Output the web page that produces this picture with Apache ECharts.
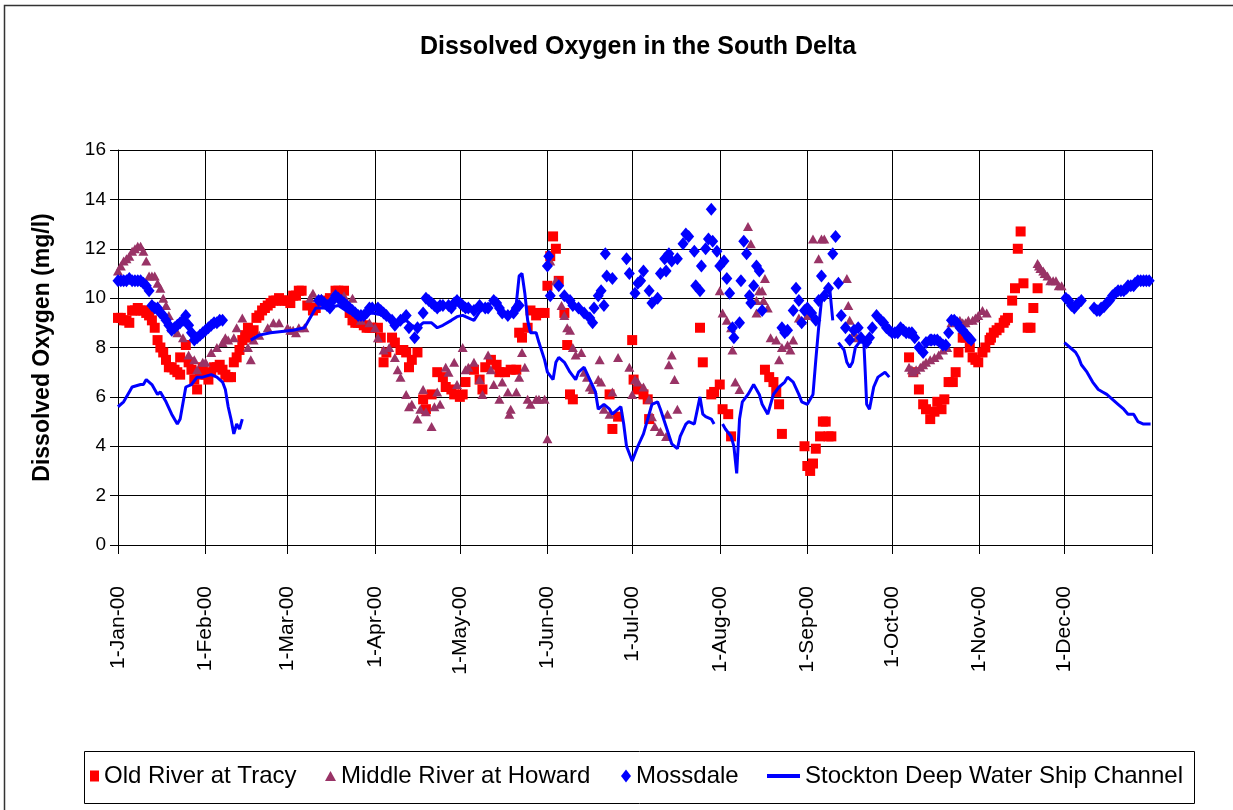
<!DOCTYPE html>
<html>
<head>
<meta charset="utf-8">
<title>Dissolved Oxygen in the South Delta</title>
<script src="https://cdn.jsdelivr.net/npm/echarts@6/dist/echarts.min.js"></script>
</head>
<body style="margin:0;background:#fff;">
<div id="main" style="width:1233px;height:810px;"></div>
<script>
// x values are day of year 2000 (0 = 1 Jan)
var monthStarts = [0, 31, 60, 91, 121, 152, 182, 213, 244, 274, 305, 335];
var monthLabels = ['1-Jan-00', '1-Feb-00', '1-Mar-00', '1-Apr-00', '1-May-00', '1-Jun-00',
    '1-Jul-00', '1-Aug-00', '1-Sep-00', '1-Oct-00', '1-Nov-00', '1-Dec-00'];
var yearEnd = 366;

var oldRiver = [
    [0,9.2],[1,9.2],[2,9.1],[3,9.1],[4,9.0],[5,9.5],[6,9.5],[7,9.6],[8,9.5],[9,9.5],[10,9.4],[11,9.3],
    [12,9.1],[13,8.8],[14,8.3],[15,8.0],[16,7.8],
    [17,7.5],[18,7.2],[19,7.2],[20,7.1],[21,7.0],[22,6.9],[22,7.6],[24,8.1],[25,7.4],[26,7.1],[27,6.7],
    [28,6.3],[29,6.9],[30,7.2],[31,6.9],[32,6.7],
    [33,7.0],[34,7.2],[35,7.2],[36,7.3],[37,7.1],[38,6.9],[39,6.8],[40,6.8],[41,7.4],[42,7.6],[43,7.9],[44,8.3],[45,8.5],
    [46,8.8],[47,8.4],[48,8.7],[49,9.2],[50,9.3],
    [51,9.5],[52,9.6],[53,9.7],[54,9.8],[55,9.9],[56,9.9],[57,10.0],[58,9.9],[59,9.9],[60,9.9],[61,9.8],
    [62,10.1],[63,10.1],[64,10.3],[65,10.3],
    [67,9.7],[69,9.5],[70,9.6],[73,9.9],[75,10.0],[77,10.3],[78,10.3],[80,10.3],[82,9.4],[83,9.1],[84,9.0],
    [85,9.0],[86,9.0],[87,8.9],[88,8.8],[89,8.8],[90,8.8],[92,8.8],[93,8.4],[94,7.4],[95,7.8],[97,8.4],[98,8.2],[100,7.9],
    [101,7.9],[102,7.8],[103,7.2],[104,7.5],[106,7.8],[108,5.9],[109,5.5],[111,6.1],[113,7.0],[115,6.8],
    [116,6.4],[118,6.3],[119,6.1],[121,6.0],[122,6.1],[123,6.6],[126,7.1],[128,6.7],[129,6.3],
    [130,7.2],[132,7.5],[134,7.3],[135,7.0],[137,7.0],[139,7.1],[141,7.1],[142,8.6],[143,8.4],
    [145,8.8],[146,9.5],[148,9.3],[149,9.4],[151,9.4],[152,10.5],[153,11.7],[154,12.5],[155,12.0],
    [156,10.7],[158,9.4],[159,8.1],[160,6.1],[161,5.9],[174,6.1],[175,4.7],[177,5.2],[182,8.3],
    [182.5,6.7],[184,6.3],[186,6.1],[187.5,5.9],[188,5.1],
    [206,8.8],[207,7.4],[210,6.1],[211,6.2],[213,6.5],[214,5.5],[216,5.3],[217,4.4],
    [229,7.1],[230.5,6.8],[232,6.6],[233,6.2],[234,5.7],[235,4.5],
    [243,4.0],[244,3.2],[245,3.0],[246,3.3],[247,3.9],[248.5,4.4],[249.5,5.0],[250.5,5.0],[251.5,4.4],[252.5,4.4],
    [280,7.6],[281.5,7.0],[283.5,6.3],[285,5.7],[286,5.5],[287.5,5.1],[289,5.4],[290,5.8],[291.5,5.5],
    [292.5,5.9],[294,6.6],[295.5,6.6],[296.5,7.0],[297.5,7.8],[299,8.4],[300,8.4],[301.5,8.0],
    [302.5,7.6],[303.5,7.5],[304.5,7.4],[306,7.8],[307,8.0],[308.5,8.3],[309,8.4],[310,8.6],[311,8.7],[312,8.8],
    [313.5,9.0],[314,9.1],[315,9.2],[316.5,9.9],[317.5,10.4],[318.5,12.0],[319.5,12.7],[320.5,10.6],[322,8.8],[323,8.8],
    [324,9.6],[325.5,10.4]
];

var middleRiver = [
    [0,11.1],[1,11.3],[2,11.5],[3,11.6],[4,11.7],[5,11.9],[6,12.0],[7,12.1],[8,12.1],[9,11.9],[10,11.5],
    [11,10.9],[12,10.9],[13,10.9],[14,10.6],
    [15,10.4],[16,10.0],[17,9.7],[18,9.3],[19,8.8],[21,8.6],[23,8.4],[25,7.7],[27,7.5],[28,7.1],
    [30,7.4],[31,7.4],[33,7.8],[35,8.0],[37,8.2],[38,8.4],[39,8.3],[41,8.4],[42,8.8],[44,9.2],
    [46,8.0],[47,7.5],[48,8.3],[50,8.5],[53,8.8],[55,9.0],[57,9.0],[60,8.8],[61,8.7],[62,8.7],
    [63,8.6],[64,8.8],[66,8.8],[68,10.0],[69,10.2],[72,10.0],[76,10.1],[80,10.1],[83,10.0],
    [86,9.1],[89,9.0],[91,8.8],[92,8.4],[94,7.9],[96,8.0],[98,7.6],[99,7.1],[100,6.8],[102,6.1],
    [103,5.6],[104,5.7],[106,5.1],[107,5.5],[108,6.3],[109,5.4],[111,4.8],[112,5.6],[113,6.2],
    [114,5.7],[116,7.2],[117,7.0],[119,7.4],[120,6.5],[122,8.0],[123,7.1],[124,7.2],[126,7.4],
    [128,6.7],[129,6.1],[131,7.7],[132,7.1],[133,6.5],[135,5.9],[136,6.6],[138,6.2],[138.5,5.3],
    [139,5.5],[141,6.2],[142,6.8],[143,7.8],[144,7.2],[145,5.9],[146,5.7],[148,5.9],[149,5.9],
    [151,5.9],[152,4.3],[153,11.5],[155,10.7],[157,9.7],[158,9.3],[159,8.8],[160,8.7],[161,8.0],
    [162,7.7],[164,7.8],[165,7.0],[166,6.8],[167,6.4],[168,6.3],[170,6.7],[170.5,7.5],[171,6.6],
    [172,5.5],[174,5.3],[175,6.2],[177,7.6],[181,7.2],[182,6.1],[183,6.7],[184,6.6],[186,6.4],
    [188,5.9],[189,5.2],[190,4.8],[192,4.6],[194,4.4],[194.5,5.3],[195,7.3],[196,7.7],[197,6.7],[198,5.5],
    [213,10.3],[214,9.4],[215.5,9.1],[217,8.8],[217.5,7.9],[218.5,6.6],[220,6.3],[223,12.9],[224,12.2],
    [226,9.9],[226,9.4],[227,10.3],[228,10.3],[228.5,9.9],[229,10.8],[230,9.6],[231,8.4],[233,8.3],
    [234,7.5],[235,8.0],[237,8.1],[238,7.9],[239,8.3],[241,9.2],[242,9.1],[244,9.3],[246,12.4],
    [248,11.6],[249,12.4],[250,12.4],[258,10.8],[258.5,9.7],[259,9.1],[260.5,8.6],[261.5,8.4],
    [280,7.2],[281,7.1],[281.5,7.0],[282.5,7.1],[284,7.2],[285,7.3],[286,7.4],[287.5,7.5],[289,7.6],[290.5,7.7],
    [292,7.9],[293.5,8.0],[295,9.0],[296.5,9.1],[298,9.1],[299,9.0],[300,9.0],[301,9.1],[302.5,9.1],
    [303.5,9.2],[304.5,9.3],[306,9.5],[307.5,9.4],
    [325.5,11.4],[326,11.3],[326.5,11.2],[327.5,11.1],[328,11.0],[329,10.9],[330,10.7],[331,10.7],[332,10.7],
    [333,10.5],[334,10.5]
];

var mossdale = [
    [0,10.7],[1,10.7],[2,10.7],[3,10.7],[4,10.8],[5,10.7],[6,10.7],[7,10.7],[8,10.7],[9,10.6],[10,10.5],
    [11,10.3],[12,9.7],[13,9.6],
    [14,9.6],[15,9.4],[16,9.3],[17,9.1],[18,8.9],[19,8.7],[20,8.8],[21,8.9],[22,9.0],[23,9.1],[24,9.3],
    [25,8.9],[26,8.6],[27,8.3],[28,8.4],[29,8.5],
    [30,8.6],[31,8.7],[32,8.8],[33,8.9],[34,9.0],[35,9.0],[36,9.1],[37,9.1],
    [71,9.9],[72,9.9],[73,9.8],[74,9.7],[75,9.6],[76,9.9],[77,10.1],[78,10.0],[79,9.9],[80,9.8],[81,9.7],
    [82,9.6],[83,9.5],[84,9.4],[85,9.3],[86,9.3],[87,9.3],[88,9.4],
    [89,9.6],[90,9.6],[92,9.6],[93,9.5],[94,9.4],[95,9.3],[97,9.1],[98,8.9],[100,9.1],[102,9.3],[103,8.8],[105,8.4],[106,8.8],
    [108,9.4],[109,10.0],[110,9.9],[111,9.8],[112,9.7],[113,9.6],[114,9.7],[115,9.7],[117,9.7],[118,9.6],
    [119,9.8],[120,9.9],[121,9.8],[122,9.7],[123,9.6],[124,9.6],
    [126,9.5],[128,9.7],[130,9.6],[131,9.6],[133,9.9],[134,9.8],[135,9.6],[136,9.4],[138,9.3],[140,9.4],[141,9.6],[142,9.7],
    [152,11.3],[152.5,11.7],[153,10.1],[156,10.5],[158,10.1],[160,9.9],[161,9.7],[163,9.6],
    [165,9.4],[167,9.2],[168,9.0],[168.5,9.6],[170,10.1],[171,10.3],[172,9.7],[172.5,11.8],
    [173,10.9],[175,10.8],[180,11.6],[181,11.0],[183,10.2],[184,10.6],[185,10.7],[186,11.1],
    [188,10.3],[189,9.8],[191,10.0],[192,11.0],[193.5,11.6],[194,11.1],[195,11.8],[196,11.5],
    [198,11.6],[200,12.2],[201,12.6],[202,12.5],[204,11.9],[204.5,10.5],[206,10.3],[206.5,11.3],
    [208,12.0],[209,12.4],[210,13.6],[210.5,12.3],[212,11.9],[213,11.3],[214.5,11.5],[215.5,10.8],
    [216.5,10.2],[217.5,8.8],[218,8.4],[220,9.0],[220.5,10.7],[221.5,12.3],[222.5,11.8],
    [223.5,10.1],[224,9.8],[225,10.5],[226,11.3],[227,11.1],[228,9.5],
    [235,8.8],[236,8.6],[237,8.7],[239,9.5],[240,10.4],[241,9.9],[242,9.0],[243,9.5],[244,9.6],
    [245.5,9.4],[247,9.1],[248,9.9],[249,10.9],[250,10.1],[251.5,10.4],[253,11.8],[254,12.5],
    [255,10.6],[256,9.3],[257.5,8.8],[259,8.3],[260.5,8.7],[262,8.8],[263,8.4],[265,8.2],[266,8.4],
    [267,8.8],[268.5,9.3],[270,9.1],[271,9.0],[272,8.8],[273,8.7],[274,8.6],[275,8.6],[276,8.6],[277,8.8],
    [278,8.7],[279,8.6],[280,8.6],[281,8.6],
    [282,8.4],[283.5,8.0],[285,7.8],[286,8.2],[287.5,8.3],[288,8.3],[289,8.3],[290,8.3],[291,8.2],[292,8.1],
    [293,8.1],[294,8.6],[295,9.1],[296,9.1],[297,9.0],[298,8.8],[299,8.7],[300.5,8.5],[301,8.4],[302,8.3],
    [335.5,10.0],[336.5,9.9],[337.5,9.7],[338.5,9.6],[339,9.7],[340,9.8],[341,9.9],[345.5,9.6],[346.5,9.5],
    [347.5,9.5],[348,9.6],[349,9.65],[350,9.8],[351,9.9],[352,10.1],[353,10.2],[354,10.3],[355,10.3],
    [356,10.3],[357,10.4],[357.5,10.5],[358.5,10.5],
    [359.5,10.5],[360,10.6],[361,10.7],[362,10.7],[363,10.7],[364,10.7],[365,10.7]
];

// '-' breaks the line where there is no record
var stockton = [
    [0,5.6],[2,5.8],[4,6.2],[5,6.4],[8,6.5],[9,6.5],[10,6.7],[12,6.5],[14,6.1],[15,6.2],[17,5.8],
    [19,5.3],[21,4.9],[22,5.1],[24,6.4],[26,6.5],[28,6.8],[30,6.8],[33,6.9],[35,6.8],[37,6.6],
    [38,6.3],[39,5.6],[40,5.1],[41,4.5],[42,4.9],[43,4.7],[44,5.1],[45,'-'],
    [47,8.3],[50,8.5],[54,8.6],[58,8.65],[62,8.7],[66,8.8],[70,9.6],[74,9.6],[78,9.7],[82,9.4],
    [86,9.3],[90,9.4],[94,9.3],[98,8.9],[102,9.1],[104,8.9],[106,8.8],[108,9.0],[111,9.0],
    [113,8.8],[115,8.9],[118,9.1],[120,9.25],[122,9.3],[123,9.25],[126,9.1],[128,9.45],[131,9.7],
    [133,9.9],[135,9.6],[138,9.25],[139,9.4],[141,9.8],[142,10.9],[143,11.0],[144,10.2],[145,9.1],
    [146,8.6],[148,8.6],[149,8.2],[151,7.5],[152,7.0],[154,6.7],[155,7.4],[156,7.6],[158,7.4],
    [160,7.0],[162,6.7],[163,7.0],[165,7.2],[167,6.7],[169,6.2],[170,5.5],[172,5.7],[174,5.5],
    [175,5.3],[177,5.5],[178,5.6],[179,4.9],[180,4.0],[182,3.4],[184,4.0],[186,4.5],[188,5.3],
    [189,5.7],[191,5.8],[192,5.5],[194,4.8],[196,4.1],[198,3.9],[199,4.4],[201,4.9],[202,5.0],
    [204,4.9],[206,6.0],[207,5.3],[208,5.2],[210,5.1],[211,4.9],[212,'-'],
    [214,4.9],[215,4.7],[217,4.4],[218,4.0],[219,2.9],[220,5.1],[221,5.8],[223,6.1],[225,6.5],
    [227,6.1],[228,5.7],[230,5.3],[232,6.1],[234,6.4],[236,6.6],[237,6.8],[239,6.6],[241,6.1],
    [242,5.8],[244,5.7],[246,6.1],[247,7.5],[248,8.8],[249,9.9],[250,10.2],[251,10.3],[252,10.3],
    [253,9.1],[254,'-'],
    [255,8.2],[257,7.9],[258,7.4],[259,7.2],[260,7.4],[261,8.0],[263,8.3],[264,8.2],[264.5,7.0],
    [265,5.7],[266,5.5],[267.5,6.4],[269,6.8],[271.5,7.0],[273,6.8],[274,'-'],
    [335,8.2],[337,8.0],[339,7.8],[340,7.6],[341,7.3],[343,7.0],[345,6.6],[347,6.3],[348.5,6.2],
    [350,6.1],[352,5.9],[354,5.7],[356,5.5],[357.5,5.3],[359.5,5.3],[361,5.0],[363,4.9],[365.5,4.9]
];

var seriesNames = ['Old River at Tracy', 'Middle River at Howard', 'Mossdale', 'Stockton Deep Water Ship Channel'];

var myChart = echarts.init(document.getElementById('main'));

var legendText = { fontSize: 24, color: '#000', fontFamily: 'Liberation Sans, Arial, sans-serif' };
function oneLegend(item, left, w, h) {
    return {
        data: [item], left: left, top: 764, orient: 'horizontal',
        itemWidth: w, itemHeight: h, itemGap: 0, padding: 0,
        symbolKeepAspect: false,
        selectedMode: false, textStyle: legendText
    };
}

myChart.setOption({
    backgroundColor: '#fff',
    animation: false,
    textStyle: { fontFamily: 'Liberation Sans, Arial, sans-serif' },
    title: {
        text: 'Dissolved Oxygen in the South Delta',
        left: 633,
        top: 30,
        textAlign: 'center',
        textStyle: { fontSize: 25, fontWeight: 'bold', color: '#000' }
    },
    legend: [
        oneLegend({ name: seriesNames[0], icon: 'rect' }, 90, 9, 11),
        oneLegend({ name: seriesNames[1], icon: 'triangle' }, 325, 11, 10),
        oneLegend({ name: seriesNames[2], icon: 'diamond' }, 621, 10, 13),
        oneLegend({ name: seriesNames[3], icon: 'path://M0,0L33,0L33,4L0,4Z' }, 767, 33, 4)
    ],
    graphic: [{
        type: 'rect',
        z: -10,
        shape: { x: 4.5, y: 5.5, width: 1240, height: 820 },
        style: { fill: 'none', stroke: '#333', lineWidth: 1.5 }
    }, {
        type: 'rect',
        z: -10,
        shape: { x: 84.5, y: 751.5, width: 1110, height: 52 },
        style: { fill: 'none', stroke: '#000', lineWidth: 1 }
    }],
    grid: { left: 118, right: 81, top: 150, bottom: 265 },
    xAxis: {
        type: 'value',
        min: 0,
        max: yearEnd,
        axisLine: { lineStyle: { color: '#000', width: 1 } },
        axisTick: {
            show: true,
            length: 9,
            customValues: monthStarts.concat([yearEnd]),
            lineStyle: { color: '#000' }
        },
        axisLabel: {
            customValues: monthStarts,
            rotate: 90,
            margin: 41,
            fontSize: 21,
            color: '#000',
            formatter: function (v) {
                var i = monthStarts.indexOf(v);
                return i >= 0 ? monthLabels[i] : '';
            }
        },
        splitLine: { show: true, lineStyle: { color: '#000', width: 1 } }
    },
    yAxis: {
        type: 'value',
        min: 0,
        max: 16,
        interval: 2,
        name: 'Dissolved Oxygen (mg/l)',
        nameLocation: 'middle',
        nameGap: 64,
        nameTextStyle: { fontSize: 23, fontWeight: 'bold', color: '#000' },
        axisLine: { show: true, lineStyle: { color: '#000', width: 1 } },
        axisTick: { show: true, length: 8, lineStyle: { color: '#000' } },
        axisLabel: { fontSize: 19, color: '#000', margin: 12 },
        splitLine: { show: true, lineStyle: { color: '#000', width: 1 } }
    },
    series: [{
        name: seriesNames[0],
        type: 'scatter',
        symbol: 'rect',
        symbolSize: 10,
        itemStyle: { color: '#ff0000', opacity: 1 },
        data: oldRiver
    }, {
        name: seriesNames[1],
        type: 'scatter',
        symbol: 'triangle',
        symbolSize: [10, 9],
        itemStyle: { color: '#993366', opacity: 1 },
        data: middleRiver
    }, {
        name: seriesNames[2],
        type: 'scatter',
        symbol: 'diamond',
        symbolSize: [11, 13],
        itemStyle: { color: '#0000ff', opacity: 1 },
        data: mossdale
    }, {
        name: seriesNames[3],
        type: 'line',
        symbol: 'none',
        showSymbol: false,
        connectNulls: false,
        lineStyle: { color: '#0000ff', width: 3 },
        itemStyle: { color: '#0000ff' },
        data: stockton
    }]
});
</script>
</body>
</html>
